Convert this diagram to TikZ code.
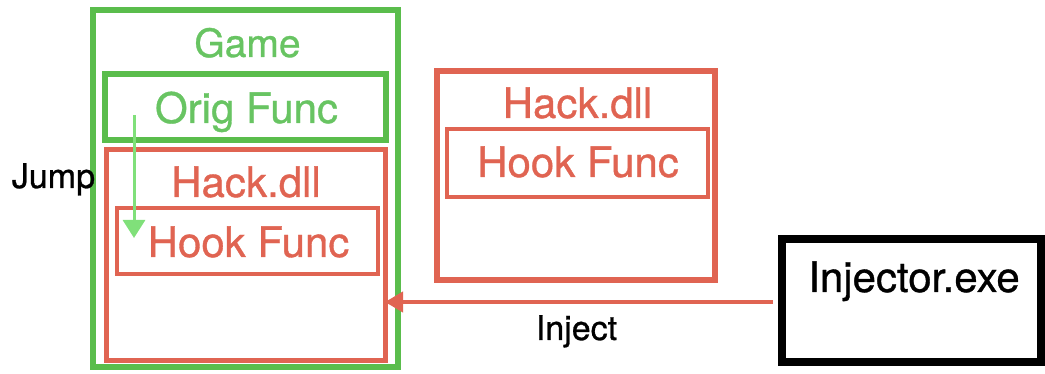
\documentclass[tikz,border=0pt]{standalone}
\usepackage{fontspec}
\setmainfont{TeX Gyre Heros}[FakeBold=0.8,AutoFakeBold=0.8]
\usetikzlibrary{arrows.meta}
\definecolor{gbox}{RGB}{90,189,76}
\definecolor{gtext}{RGB}{104,196,98}
\definecolor{rbox}{RGB}{224,100,82}
\definecolor{ljump}{RGB}{128,224,122}
\tikzset{
  box/.style={draw, rectangle, inner sep=0pt, outer sep=0pt},
  gframe/.style={box, draw=gbox},
  rframe/.style={box, draw=rbox},
  kframe/.style={box, draw=black},
  lbl/.style={anchor=base, inner sep=0pt, font=\fontsize{42}{48}\selectfont\bfseries},
  small/.style={anchor=base, inner sep=0pt, font=\fontsize{34}{40}\selectfont, text=black},
}
\begin{document}
\begin{tikzpicture}[x=1pt,y=-1pt]
\useasboundingbox (0,0) rectangle (1045,374);
% Game container
\node[gframe, line width=6pt, minimum width=305pt, minimum height=357pt] (game) at (245.5,188.5) {};
\node[lbl, text=gtext, font=\fontsize{39}{46}\selectfont\bfseries] (gametxt) at (247.5,57) {Game};
% Orig Func
\node[gframe, line width=6pt, minimum width=281pt, minimum height=66pt] (orig) at (245.5,107) {};
\node[lbl, text=gtext] (origtxt) at (246.5,123) {Orig Func};
% Hack.dll inside game
\node[rframe, line width=5pt, minimum width=279pt, minimum height=210pt] (hackin) at (245.5,255) {};
\node[lbl, text=rbox] (hackintxt) at (246,197) {Hack.dll};
\node[rframe, line width=4pt, minimum width=261pt, minimum height=66pt] (hookin) at (247.5,241) {};
\node[lbl, text=rbox] (hookintxt) at (248.5,257) {Hook Func};
% Hack.dll standalone
\node[rframe, line width=6pt, minimum width=278pt, minimum height=209pt] (hackout) at (576,175.5) {};
\node[lbl, text=rbox] (hackouttxt) at (577.5,118) {Hack.dll};
\node[rframe, line width=4pt, minimum width=261pt, minimum height=68pt] (hookout) at (577.5,163) {};
\node[lbl, text=rbox] (hookouttxt) at (578,177) {Hook Func};
% Injector
\node[kframe, line width=8pt, minimum width=259pt, minimum height=123pt] (inj) at (911.5,300.5) {};
\node[lbl, text=black] (injtxt) at (914,292) {Injector.exe};
% Labels
\node[small] (jump) at (53.5,188) {Jump};
\node[small] (inject) at (576.5,340) {Inject};
% Jump arrow
\coordinate (jumpstart) at (134,115);
\coordinate (jumpend) at (134,238);
\draw[ljump, line width=3pt, -{Triangle[length=18pt,width=22pt]}] (jumpstart) -- (jumpend);
% Inject arrow
\coordinate (injstart) at (773,302);
\draw[rbox, line width=4pt, -{Triangle[length=18pt,width=20pt]}] (injstart) -- (hackin.east |- injstart);
\end{tikzpicture}
\end{document}
